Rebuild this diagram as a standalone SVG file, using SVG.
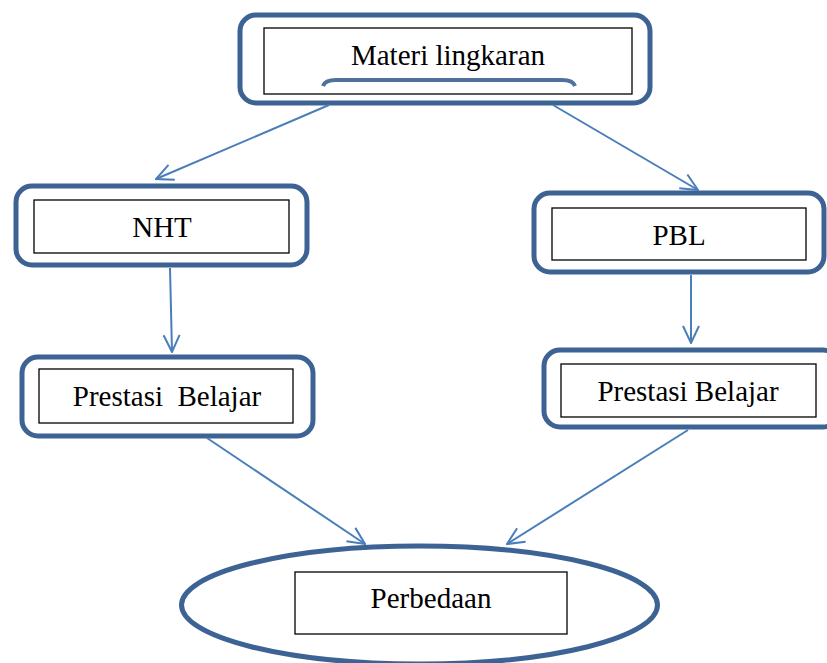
<svg xmlns="http://www.w3.org/2000/svg" width="827" height="663" viewBox="0 0 827 663">
<style>
.outer{fill:#ffffff;stroke:#3d6294;stroke-width:5}
.inner{fill:#ffffff;stroke:#000000;stroke-width:1.3}
.lbl{font-family:"Liberation Serif","Times New Roman",serif;font-size:29px;fill:#000000;text-anchor:middle}
.conn{fill:none;stroke:#4a7ebb;stroke-width:2}
</style>
<defs>
<marker id="arr" viewBox="0 0 20 20" refX="19" refY="10" markerWidth="20" markerHeight="20" markerUnits="userSpaceOnUse" orient="auto">
<path d="M2,2 L19,10 L2,18" fill="none" stroke="#4a7ebb" stroke-width="2"/>
</marker>
</defs>
<rect width="827" height="663" fill="#ffffff"/>
<g id="node-materi">
<rect class="outer" x="240" y="15" width="410" height="88" rx="16"/>
<rect class="inner" x="264" y="28" width="368" height="66"/>
<path d="M323,86 Q325,80 336,80 L562,80 Q573,80 575,86" fill="none" stroke="#3d6294" stroke-width="4" opacity="0.9"/>
<text class="lbl" x="448" y="65">Materi lingkaran</text>
</g>
<g id="node-nht">
<rect class="outer" x="16" y="186" width="291" height="79" rx="16"/>
<rect class="inner" x="34" y="200" width="255" height="53"/>
<text class="lbl" x="162" y="237">NHT</text>
</g>
<g id="node-pbl">
<rect class="outer" x="534" y="193" width="290" height="79" rx="16"/>
<rect class="inner" x="552" y="208" width="254" height="52"/>
<text class="lbl" x="679" y="245">PBL</text>
</g>
<g id="node-prestasi-left">
<rect class="outer" x="22" y="357" width="291" height="79" rx="16"/>
<rect class="inner" x="39" y="369" width="254" height="54"/>
<text class="lbl" x="167" y="406" xml:space="preserve">Prestasi  Belajar</text>
</g>
<g id="node-prestasi-right">
<rect class="outer" x="544" y="350" width="295" height="77" rx="16"/>
<rect class="inner" x="561" y="364" width="255" height="53"/>
<text class="lbl" x="688" y="401">Prestasi Belajar</text>
</g>
<g id="node-perbedaan">
<ellipse class="outer" cx="419.5" cy="605" rx="238" ry="59"/>
<rect class="inner" x="295" y="572" width="272" height="62"/>
<text class="lbl" x="431" y="608">Perbedaan</text>
</g>
<g id="connectors">
<line class="conn" x1="329" y1="105" x2="156" y2="179" marker-end="url(#arr)"/>
<line class="conn" x1="553" y1="105" x2="698" y2="190" marker-end="url(#arr)"/>
<line class="conn" x1="170" y1="268" x2="172" y2="352" marker-end="url(#arr)"/>
<line class="conn" x1="691" y1="275" x2="691" y2="343" marker-end="url(#arr)"/>
<line class="conn" x1="207" y1="438" x2="365" y2="544" marker-end="url(#arr)"/>
<line class="conn" x1="688" y1="430" x2="507" y2="544" marker-end="url(#arr)"/>
</g>
</svg>
